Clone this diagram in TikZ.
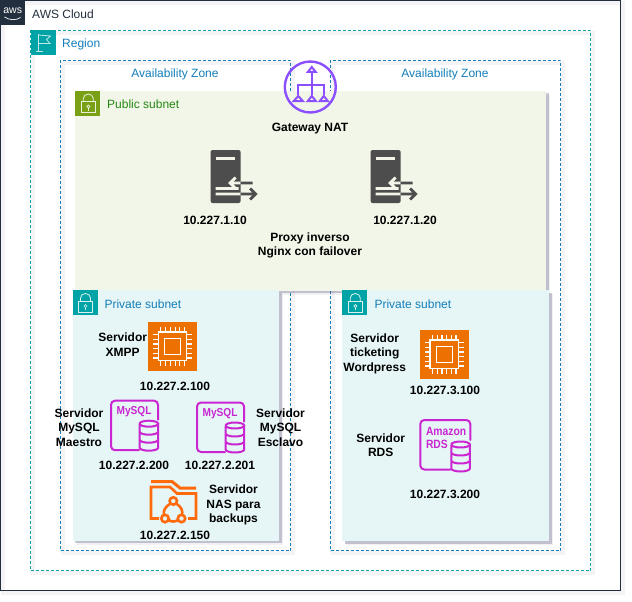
\documentclass[tikz,border=0pt]{standalone}
\usepackage{fontspec}
\setmainfont{Liberation Sans}
\definecolor{awsdark}{HTML}{232F3E}
\definecolor{regionc}{HTML}{00A4A6}
\definecolor{azc}{HTML}{147EBA}
\definecolor{pubc}{HTML}{7AA116}
\definecolor{pubtext}{HTML}{248814}
\definecolor{pubfill}{HTML}{F2F6E8}
\definecolor{privfill}{HTML}{E6F6F7}
\definecolor{natc}{HTML}{8C4FFF}
\definecolor{cpuc}{HTML}{ED7100}
\definecolor{dbc}{HTML}{C925D1}
\definecolor{nasc}{HTML}{FF6A0D}
\definecolor{srvc}{HTML}{4D4D4D}
\definecolor{shadec}{HTML}{50507A}
\tikzset{
  x=1pt,y=-1pt,
  softshadow/.style={preaction={draw=shadec,draw opacity=.06,line width=4pt,solid,
    transform canvas={shift={(2.5pt,-2.5pt)}}}},
  hardshadow/.style={
    preaction={fill=shadec,fill opacity=.08,transform canvas={shift={(4pt,-4pt)}}},
    preaction={fill=shadec,fill opacity=.30,transform canvas={shift={(2.5pt,-2.5pt)}}}},
  areabox/.style={rectangle,inner sep=0pt,outer sep=0pt,anchor=north west},
  cloudbox/.style={areabox,draw=awsdark,line width=1pt,softshadow},
  regionbox/.style={areabox,draw=regionc,line width=1pt,dash pattern=on 3pt off 2pt,softshadow},
  azbox/.style={areabox,draw=azc,line width=1pt,dash pattern=on 3pt off 2pt,softshadow},
  pubbox/.style={areabox,fill=pubfill,hardshadow},
  privbox/.style={areabox,fill=privfill,hardshadow},
  arealabel/.style={font=\fontsize{12}{14.5}\selectfont,inner sep=0pt},
  srvlabel/.style={font=\fontsize{12}{14.5}\selectfont\bfseries,align=center,inner sep=0pt,text=black},
  lockicon/.pic={
    \draw[white,line width=.8pt,opacity=.85] (6.3,11.3) rectangle (19.7,22.3);
    \draw[white,line width=.8pt,opacity=.85] (8,11.3) -- (8,8) arc[start angle=180,end angle=0,x radius=5,y radius=-4.5] -- (18,11.3);
    \draw[white,line width=.7pt,opacity=.85] (13,16) circle (1.5);
    \draw[white,line width=.7pt,opacity=.85] (13,17.5) -- (13,20);
  },
  flagicon/.pic={
    \draw[white,line width=.8pt,opacity=.75] (8,4) -- (8,21) (5.5,21) -- (12,21);
    \draw[white,line width=.8pt,opacity=.75] (8,4.5) -- (20,5.5) -- (16,9) -- (19.5,13) -- (8,13);
  },
  awslogo/.pic={
    \fill[awsdark] (0,0) rectangle (25,25);
    \node[text=white,font=\fontsize{10.5}{11}\selectfont,inner sep=0pt] (-t) at (12.7,11) {aws};
    \draw[white,line width=.7pt] (4.5,17) .. controls (10,20.5) and (16,20.5) .. (20.5,17.5);
  },
  serverbox/.pic={
    \fill[srvc,rounded corners=2pt] (0,0) rectangle (30,53);
    \fill[pubfill] (5,7.2) rectangle (24,9.6);
    \begin{scope}
      \clip (0,0) rectangle (30,53);
      \draw[pubfill,line width=2.8pt,line join=miter]
        (25,27.5) -- (19.5,33) -- (25,38.5) (19.5,33) -- (42,33)
        (5,38.5) -- (28,38.5) (5,44) -- (44,44) (39.5,38.5) -- (45,44) -- (39.5,49.5);
    \end{scope}
    \begin{scope}
      \clip (30,0) rectangle (50,53);
      \draw[srvc,line width=2.8pt,line join=miter]
        (25,27.5) -- (19.5,33) -- (25,38.5) (19.5,33) -- (42,33)
        (5,38.5) -- (28,38.5) (5,44) -- (44,44) (39.5,38.5) -- (45,44) -- (39.5,49.5);
    \end{scope}
  },
  cpuchip/.pic={
    \fill[cpuc] (0,0) rectangle (48.5,48.5);
    \draw[white,line width=1.2pt] (10,10) rectangle (38.5,38.5) (16.3,16.3) rectangle (32.2,32.2);
    \foreach \k in {12.5,17.3,22,26.8,31.5,36}{
      \draw[white,line width=1.1pt] (\k,5) -- (\k,10) (\k,38.5) -- (\k,43.5)
        (5,\k) -- (10,\k) (38.5,\k) -- (43.5,\k);
    }
  },
  dbstack/.pic={
    \draw[dbc,line width=2pt,fill=none]
      (0,3) arc[start angle=180,end angle=-180,x radius=9.3,y radius=3]
      (0,3) -- (0,27) arc[start angle=180,end angle=360,x radius=9.3,y radius=-3] -- (18.6,3)
      (0,11) arc[start angle=180,end angle=360,x radius=9.3,y radius=-3]
      (0,19) arc[start angle=180,end angle=360,x radius=9.3,y radius=-3];
  },
  mysqlicon/.pic={
    \draw[dbc,line width=2pt,rounded corners=4pt,line cap=round]
      (47,19) -- (47,0) -- (0,0) -- (0,49.5) -- (28,49.5);
    \pic at (28.6,20) {dbstack};
    \node[text=dbc,font=\fontsize{11.5}{12}\selectfont\bfseries,inner sep=0pt] (-t) at (23,11) {\addfontfeature{FakeStretch=.88}MySQL};
  },
  rdsicon/.pic={
    \draw[dbc,line width=2pt,rounded corners=4pt,line cap=round]
      (50,20) -- (50,0) -- (0,0) -- (0,49.5) -- (30,49.5);
    \pic at (31,21.5) {dbstack};
    \node[text=dbc,font=\fontsize{12}{12}\selectfont\bfseries,inner sep=0pt,anchor=west] (-a) at (5.5,11.5) {\addfontfeature{FakeStretch=.86}Amazon};
    \node[text=dbc,font=\fontsize{12}{12}\selectfont\bfseries,inner sep=0pt,anchor=west] (-b) at (5.5,24) {\addfontfeature{FakeStretch=.86}RDS};
  },
  nasicon/.pic={
    \draw[nasc,line width=3pt] (0,1.5) -- (21,1.5) -- (29,8) -- (45,8);
    \draw[nasc,line width=2.6pt] (8,38.5) -- (0,38.5) -- (0,7) -- (19,7) -- (26,13.5) -- (45,13.5) -- (45,38.5) -- (37,38.5);
    \draw[nasc,line width=2.6pt] (18.8,24) .. controls (14,27) and (12,31) .. (13,35)
      (25.8,24) .. controls (30.5,27) and (32,31) .. (31,35)
      (17.8,40) .. controls (20,42) and (24,42) .. (27.2,40);
    \draw[nasc,line width=2.6pt] (22.3,21) circle (3.7) (14,38.5) circle (3.7) (30.5,38.5) circle (3.7);
  },
  naticon/.pic={
    \draw[natc,line width=2.4pt] (0,0) circle (25.5);
    \draw[natc,line width=2.2pt] (1.5,-15) -- (1.5,-2)
      (-12,8) -- (-12,-2) -- (13.5,-2) -- (13.5,8) (1.5,-2) -- (1.5,8);
    \draw[natc,line width=2pt,line join=miter]
      (1.5,-20) -- (-2.5,-15) -- (5.5,-15) -- cycle
      (-12,9) -- (-16.5,14) -- (-7.5,14) -- cycle
      (1.5,9) -- (-2.5,14) -- (5.5,14) -- cycle
      (13.5,9) -- (9.5,14) -- (17.5,14) -- cycle;
  },
}
\begin{document}
\begin{tikzpicture}
\useasboundingbox (0,0) rectangle (632,602);
\fill[white] (0,0) rectangle (632,602);
% containers
\node[cloudbox,minimum width=620pt,minimum height=589.5pt] (cloud) at (0.5,0.5) {};
\node[regionbox,minimum width=560pt,minimum height=540pt] (region) at (30.5,30.5) {};
\node[azbox,minimum width=230pt,minimum height=490pt] (azl) at (60.5,60.5) {};
\node[azbox,minimum width=230pt,minimum height=490pt] (azr) at (330.5,60.5) {};
\node[pubbox,minimum width=471pt,minimum height=200pt] (pub) at (75.3,90.5) {};
\node[privbox,minimum width=206.5pt,minimum height=250.5pt] (privl) at (72.5,290) {};
\node[privbox,minimum width=207pt,minimum height=251pt] (privr) at (342.3,290) {};
% badges
\pic (logo) at (0,0) {awslogo};
\node[areabox,fill=regionc,minimum size=25pt] (regbadge) at (30.5,30.5) {};
\pic at (30.5,30.5) {flagicon};
\node[areabox,fill=pubc,minimum size=25pt] (pubbadge) at (75.3,90.5) {};
\pic at (75.3,90.5) {lockicon};
\node[areabox,fill=regionc,minimum size=25pt] (privlbadge) at (72.5,290) {};
\pic at (72.5,290) {lockicon};
\node[areabox,fill=regionc,minimum size=25pt] (privrbadge) at (342.3,290) {};
\pic at (342.3,290) {lockicon};
% area labels
\node[arealabel,anchor=west,text=awsdark] (tcloud) at (32,14) {AWS Cloud};
\node[arealabel,anchor=west,text=azc] (tregion) at (62,44) {Region};
\node[arealabel,text=azc] (tazl) at (175,74) {Availability Zone};
\node[arealabel,text=azc] (tazr) at (445,74) {Availability Zone};
\node[arealabel,anchor=west,text=pubtext] (tpub) at (107,104) {Public subnet};
\node[arealabel,anchor=west,text=azc] (tprivl) at (104.3,304) {Private subnet};
\node[arealabel,anchor=west,text=azc] (tprivr) at (374.3,304) {Private subnet};
% icons
\pic (nat) at (310.3,87) {naticon};
\pic (srv1) at (210.6,150) {serverbox};
\pic (srv2) at (370.6,150) {serverbox};
\pic (cpu1) at (148.3,322) {cpuchip};
\pic (cpu2) at (420,330) {cpuchip};
\pic (my1) at (111,400.7) {mysqlicon};
\pic (my2) at (197,402.5) {mysqlicon};
\pic (rds) at (420.3,420) {rdsicon};
\pic (nas) at (151,480) {nasicon};
% server labels
\node[srvlabel] (lnat) at (310,129) {Gateway NAT};
\node[srvlabel] (ip110) at (215,220) {10.227.1.10};
\node[srvlabel] (ip120) at (405,220) {10.227.1.20};
\node[srvlabel] (lproxy) at (310,245.5) {Proxy inverso\\Nginx con failover};
\node[srvlabel] (lxmpp) at (122.7,344.5) {Servidor\\XMPP};
\node[srvlabel] (ip2100) at (175,386.5) {10.227.2.100};
\node[srvlabel] (lmaestro) at (79,427.5) {Servidor\\MySQL\\Maestro};
\node[srvlabel] (lesclavo) at (280.5,427.5) {Servidor\\MySQL\\Esclavo};
\node[srvlabel] (ip2200) at (134,465) {10.227.2.200};
\node[srvlabel] (ip2201) at (220,465) {10.227.2.201};
\node[srvlabel] (lnas) at (233.5,505) {Servidor\\NAS para\\backups};
\node[srvlabel] (ip2150) at (175,535) {10.227.2.150};
\node[srvlabel] (lticket) at (374.7,353.5) {Servidor\\ticketing\\Wordpress};
\node[srvlabel] (ip3100) at (445,390) {10.227.3.100};
\node[srvlabel] (lrds) at (380.7,445) {Servidor\\RDS};
\node[srvlabel] (ip3200) at (445,494) {10.227.3.200};
\end{tikzpicture}
\end{document}
